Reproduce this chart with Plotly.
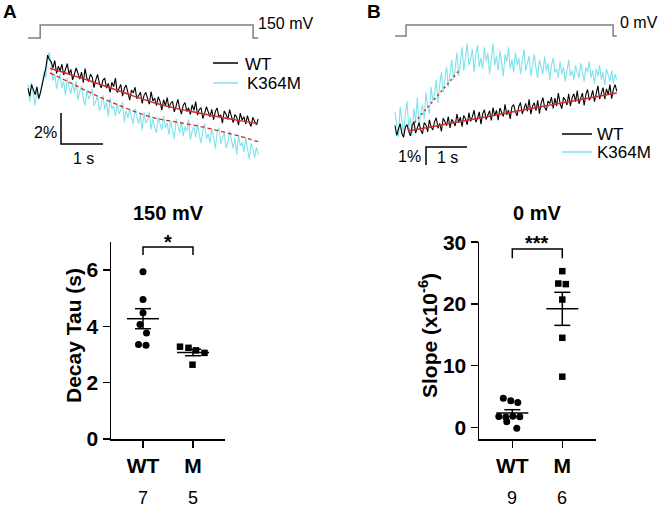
import numpy as np
import plotly.graph_objects as go

# ---------------- data ----------------
# Panel A (150 mV) fluorescence traces, % change, sampled over 5.48 s
A_DURATION = 5.48
A_WT = [0.1, -0.4, 0.35, 0.05, -0.3, 0.2, -0.55, -0.15, 0.3, 0.9,
        1.45, 2.25, 1.95, 1.82, 1.43, 1.90, 1.07, 1.53, 1.24, 1.66,
        0.97, 1.29, 1.70, 1.02, 1.33, 0.65, 1.05, 1.42, 1.08, 0.70,
        1.15, 0.47, 1.38, 0.75, 0.55, 1.02, 0.83, 0.15, 0.65, 1.01,
        0.43, 0.14, 0.64, 0.76, 0.12, 0.43, -0.16, 0.50, 0.21, 0.77,
        -0.17, 0.04, 0.35, -0.39, 0.11, 0.32, -0.27, -0.65, 0.0, -0.19,
        0.18, -0.56, -0.35, -0.14, -0.87, -0.36, -0.15, -0.64, -0.92, -0.11,
        -0.70, -0.53, -1.01, -0.44, -0.73, -1.30, -0.63, -1.01, -0.49, -1.17,
        -0.85, -0.73, -1.41, -1.04, -0.61, -1.18, -1.56, -0.98, -0.81, -1.38,
        -1.15, -1.58, -0.95, -1.32, -0.75, -1.62, -1.24, -1.16, -1.84, -1.51,
        -1.08, -1.40, -1.73, -1.25, -1.92, -1.39, -1.16, -1.74, -1.61, -2.13,
        -1.35, -1.57, -1.89, -1.26, -1.79, -2.11, -1.58, -1.75, -2.27, -1.49,
        -1.95, -1.72, -2.19, -1.66, -2.08, -2.35, -1.77, -1.99, -2.25, -1.87]
A_K364M = [0.35, -0.75, 0.5, -0.3, -1.0, 0.1, -0.6, -0.2, 0.55, 1.2,
           0.8, 2.0, 2.45, 1.36, 0.60, 1.05, 0.09, 0.64, 1.03, 0.13,
           0.57, -0.34, 0.76, 0.15, -0.25, 0.44, -0.17, 0.57, -0.63, -0.09,
           0.25, -0.56, -1.01, 0.03, -0.57, -0.33, 0.07, -1.03, -0.64, -0.39,
           -1.34, -0.99, -0.34, -1.25, -0.75, -1.70, -0.50, -1.20, -1.04, -1.69,
           -0.84, -1.54, -1.33, -0.78, -2.07, -1.32, -1.82, -1.21, -1.71, -2.20,
           -1.20, -1.69, -2.18, -1.56, -2.60, -1.44, -2.13, -1.97, -1.40, -2.54,
           -1.88, -2.40, -2.77, -1.75, -2.22, -2.59, -1.66, -2.43, -2.11, -2.88,
           -2.00, -2.47, -3.14, -1.86, -2.38, -2.75, -2.02, -2.99, -2.36, -2.68,
           -1.90, -3.22, -2.65, -2.37, -3.05, -2.17, -2.90, -3.42, -2.60, -2.17,
           -3.15, -2.83, -3.40, -2.48, -3.05, -3.78, -2.76, -2.43, -3.46, -3.09,
           -2.77, -3.75, -3.38, -2.66, -3.29, -3.77, -3.10, -4.18, -2.87, -3.60,
           -3.38, -4.01, -3.05, -3.83, -4.47, -3.45, -3.73, -4.37, -3.70, -4.13]
A_FIT_T = [0.52, 1.0, 1.5, 2.0, 2.5, 3.0, 3.5, 4.0, 4.5, 5.0, 5.48]
A_FIT_WT = [1.4, 1.0, 0.56, 0.1, -0.38, -0.82, -1.17, -1.45, -1.71, -1.96, -2.17]
A_FIT_K364M = [1.1, 0.48, -0.2, -0.8, -1.35, -1.8, -2.05, -2.3, -2.6, -2.95, -3.33]
A_STIM_T = [0, 0.29, 0.29, 5.36, 5.36, 5.48]
A_STIM_V = [0, 0, 1, 1, 0, 0]

# Panel B (0 mV)
B_DURATION = 5.41
B_WT = [0.25, -0.3, 0.05, 0.35, -0.2, -0.4, 0.15, 0.3, -0.09, -0.33,
        0.24, 0.46, -0.17, 0.09, 0.41, -0.02, -0.21, 0.41, 0.28, -0.10,
        0.56, 0.18, 0.0, 0.46, 0.68, 0.10, 0.37, -0.07, 0.65, 0.47,
        0.24, 0.75, 0.12, 0.59, 0.45, 0.22, 0.89, 0.41, 0.72, 0.19,
        0.81, 0.62, 0.29, 0.96, 0.48, 0.74, 1.11, 0.43, 0.64, 1.01,
        0.33, 0.90, 1.12, 0.58, 0.80, 1.07, 0.53, 1.25, 0.77, 1.09,
        0.55, 1.22, 0.99, 0.75, 1.42, 0.84, 1.11, 0.62, 1.29, 1.41,
        1.02, 0.79, 1.31, 1.53, 0.89, 1.16, 1.48, 1.04, 1.71, 0.88,
        1.34, 1.51, 1.08, 1.65, 0.91, 1.48, 1.80, 1.27, 1.08, 1.60,
        1.47, 1.83, 1.20, 1.77, 1.34, 2.05, 1.47, 1.19, 1.81, 1.67,
        1.39, 2.01, 1.33, 1.79, 2.01, 1.58, 2.19, 1.46, 1.78, 2.05,
        1.36, 1.98, 2.25, 1.66, 1.83, 2.20, 1.57, 2.13, 2.45, 1.72,
        2.03, 2.35, 1.72, 2.29, 1.95, 2.52, 1.74, 2.26, 2.52, 2.14]
B_K364M = [1.0, 0.2, -0.4, 1.3, 0.6, -0.2, 0.9, 1.6, 0.1, 0.7,
           -0.3, 1.2, 0.5, 1.8, 0.2, 1.0, 1.4, 0.6, 2.1, 1.3,
           0.9, 2.4, 1.6, 2.0, 2.8, 1.5, 2.5, 3.2, 2.1, 2.7,
           3.5, 2.4, 3.1, 3.9, 2.8, 3.4, 4.3, 3.0, 3.7, 4.6,
           3.3, 4.1, 4.8, 3.6, 3.9, 4.5, 3.2, 4.2, 4.7, 3.5,
           4.0, 3.4, 4.6, 3.8, 4.3, 3.1, 3.9, 4.8, 3.6, 4.1,
           3.3, 4.4, 3.7, 3.0, 4.2, 3.8, 4.6, 3.4, 3.9, 3.2,
           4.3, 3.6, 4.0, 3.1, 3.8, 4.5, 3.3, 3.7, 4.1, 3.0,
           3.6, 4.2, 3.4, 2.9, 3.9, 3.5, 3.1, 4.1, 3.3, 3.7,
           2.8, 3.6, 4.0, 3.2, 3.4, 2.9, 3.8, 3.1, 3.5, 2.7,
           3.4, 3.9, 3.0, 3.3, 2.8, 3.6, 3.2, 2.9, 3.7, 3.1,
           2.7, 3.5, 3.2, 3.8, 2.9, 3.3, 2.6, 3.4, 3.0, 3.6,
           2.8, 3.2, 2.5, 3.4, 3.0, 2.7, 3.3, 2.6, 3.1, 2.8]
B_FIT_WT_T = [0.32, 5.41]
B_FIT_WT = [-0.05, 2.05]
B_FIT_K364M_T = [0.32, 1.59]
B_FIT_K364M = [0.0, 3.37]
B_STIM_T = [0, 0.27, 0.27, 5.32, 5.32, 5.41]
B_STIM_V = [0, 0, 1, 1, 0, 0]

# Summary data
CATEGORIES = ["WT", "M"]
TAU_WT = [5.94, 4.96, 4.49, 4.07, 3.77, 3.36, 3.33]
TAU_M = [3.28, 3.24, 3.15, 3.06, 2.64]
SLOPE_WT = [4.7, 4.3, 4.0, 1.75, 1.65, 1.8, 1.7, 0.9, -0.15]
SLOPE_M = [25.3, 23.3, 23.2, 20.7, 14.5, 8.2]
N_TAU = ["7", "5"]
N_SLOPE = ["9", "6"]

# jitter (layout only)
TAU_WT_JIT = [0, 0, 0, -0.06, 0.07, -0.09, 0.06]
TAU_M_JIT = [-0.26, -0.09, 0.06, 0.23, -0.01]
SLOPE_WT_JIT = [-0.18, -0.03, 0.11, -0.27, -0.13, 0.01, 0.15, -0.11, 0.09]
SLOPE_M_JIT = [0, -0.08, 0.07, 0, 0, 0]

# ---------------- layout helpers ----------------
W, H = 663, 509
FONT = "Liberation Sans, Arial, sans-serif"
CYAN = "#7ee3ea"
RED = "#d42a2a"
GRAY = "#808080"


def px(p):
    return p / W


def py(p):
    return 1 - p / H


def xdom(p0, p1):
    return [px(p0), px(p1)]


def ydom(top, bottom):
    return [py(bottom), py(top)]


def xrng(p0, p1, zero, scale):
    return [(p0 - zero) / scale, (p1 - zero) / scale]


def yrng(top, bottom, zero, scale):
    return [(zero - bottom) / scale, (zero - top) / scale]


fig = go.Figure()

# ---------------- traces panel A ----------------
tA = np.linspace(0, A_DURATION, len(A_WT))
tB = np.linspace(0, B_DURATION, len(B_WT))

fig.add_trace(go.Scatter(x=A_STIM_T, y=A_STIM_V, mode="lines", xaxis="x", yaxis="y2",
                         line=dict(color=GRAY, width=1.5), hoverinfo="skip"))
fig.add_trace(go.Scatter(x=tA, y=A_K364M, mode="lines", xaxis="x", yaxis="y",
                         line=dict(color=CYAN, width=1.1)))
fig.add_trace(go.Scatter(x=tA, y=A_WT, mode="lines", xaxis="x", yaxis="y",
                         line=dict(color="black", width=1.1)))
fig.add_trace(go.Scatter(x=A_FIT_T, y=A_FIT_WT, mode="lines", xaxis="x", yaxis="y",
                         line=dict(color=RED, width=1.5, shape="spline")))
fig.add_trace(go.Scatter(x=A_FIT_T, y=A_FIT_K364M, mode="lines", xaxis="x", yaxis="y",
                         line=dict(color=RED, width=1.3, dash="4px,3px", shape="spline")))
# scale bar A: 1 s, 2 %
sa_t, sa_v = 0.786, -1.48
fig.add_trace(go.Scatter(x=[sa_t, sa_t, sa_t + 1], y=[sa_v, sa_v - 2, sa_v - 2], mode="lines",
                         xaxis="x", yaxis="y", line=dict(color="black", width=1.5)))

# ---------------- traces panel B ----------------
fig.add_trace(go.Scatter(x=B_STIM_T, y=B_STIM_V, mode="lines", xaxis="x3", yaxis="y4",
                         line=dict(color=GRAY, width=1.5)))
fig.add_trace(go.Scatter(x=tB, y=B_K364M, mode="lines", xaxis="x3", yaxis="y3",
                         line=dict(color=CYAN, width=1.1)))
fig.add_trace(go.Scatter(x=tB, y=B_WT, mode="lines", xaxis="x3", yaxis="y3",
                         line=dict(color="black", width=1.1)))
fig.add_trace(go.Scatter(x=B_FIT_WT_T, y=B_FIT_WT, mode="lines", xaxis="x3", yaxis="y3",
                         line=dict(color=RED, width=1.5)))
fig.add_trace(go.Scatter(x=B_FIT_K364M_T, y=B_FIT_K364M, mode="lines", xaxis="x3", yaxis="y3",
                         line=dict(color=RED, width=1.6, dash="2px,3px")))
sb_t, sb_v = 0.756, -0.944
fig.add_trace(go.Scatter(x=[sb_t + 1, sb_t, sb_t], y=[sb_v, sb_v, sb_v - 1], mode="lines",
                         xaxis="x3", yaxis="y3", line=dict(color="black", width=1.5)))


# ---------------- summary plots ----------------
def mean_sem_trace(vals, center, xa, ya):
    m = float(np.mean(vals))
    s = float(np.std(vals, ddof=1) / np.sqrt(len(vals)))
    hw, cw = 0.32, 0.16
    xs = [center - hw, center + hw, None, center, center, None,
          center - cw, center + cw, None, center - cw, center + cw]
    ys = [m, m, None, m - s, m + s, None, m + s, m + s, None, m - s, m - s]
    return go.Scatter(x=xs, y=ys, mode="lines", xaxis=xa, yaxis=ya,
                      line=dict(color="black", width=1.5), cliponaxis=False)


def points(vals, jit, center, symbol, size, xa, ya):
    return go.Scatter(x=[center + j for j in jit], y=vals, mode="markers", xaxis=xa, yaxis=ya,
                      marker=dict(symbol=symbol, size=size, color="black", line=dict(width=0)),
                      cliponaxis=False)


fig.add_trace(points(TAU_WT, TAU_WT_JIT, 1, "circle", 7, "x5", "y5"))
fig.add_trace(points(TAU_M, TAU_M_JIT, 2, "square", 6.5, "x5", "y5"))
fig.add_trace(mean_sem_trace(TAU_WT, 1, "x5", "y5"))
fig.add_trace(mean_sem_trace(TAU_M, 2, "x5", "y5"))
fig.add_trace(go.Scatter(x=[1, 1, 2, 2], y=[6.54, 6.82, 6.82, 6.54], mode="lines",
                         xaxis="x5", yaxis="y5", line=dict(color="black", width=1.5), cliponaxis=False))

fig.add_trace(points(SLOPE_WT, SLOPE_WT_JIT, 1, "circle", 7, "x6", "y6"))
fig.add_trace(points(SLOPE_M, SLOPE_M_JIT, 2, "square", 6.5, "x6", "y6"))
fig.add_trace(mean_sem_trace(SLOPE_WT, 1, "x6", "y6"))
fig.add_trace(mean_sem_trace(SLOPE_M, 2, "x6", "y6"))
fig.add_trace(go.Scatter(x=[1, 1, 2, 2], y=[27.4, 28.9, 28.9, 27.4], mode="lines",
                         xaxis="x6", yaxis="y6", line=dict(color="black", width=1.5), cliponaxis=False))

hidden = dict(visible=False, showgrid=False, zeroline=False, fixedrange=True, automargin=False)
sum_axis = dict(showline=True, linecolor="black", linewidth=1.5, ticks="outside",
                ticklen=7, tickwidth=1.5, tickcolor="black", showgrid=False, zeroline=False,
                automargin=False, fixedrange=True,
                tickfont=dict(family=FONT, size=21, color="black", weight="bold"))

fig.update_layout(
    template="none",
    width=W, height=H, margin=dict(l=0, r=0, t=0, b=0, pad=0), autosize=False,
    paper_bgcolor="white", plot_bgcolor="rgba(0,0,0,0)", showlegend=False,
    font=dict(family=FONT, color="black"),
    xaxis=dict(domain=xdom(20, 330), range=xrng(20, 330, 28, 42), anchor="y", **hidden),
    yaxis=dict(domain=ydom(10, 175), range=yrng(10, 175, 90, 15.5), anchor="x", **hidden),
    yaxis2=dict(overlaying="y", range=yrng(10, 175, 38, 13), anchor="x", **hidden),
    xaxis3=dict(domain=xdom(340, 663), range=xrng(340, 663, 395, 41), anchor="y3", **hidden),
    yaxis3=dict(domain=ydom(10, 175), range=yrng(10, 175, 130, 18), anchor="x3", **hidden),
    yaxis4=dict(overlaying="y3", range=yrng(10, 175, 36, 11), anchor="x3", **hidden),
    xaxis5=dict(domain=xdom(111, 225), range=[1 - 32 / 50, 2 + 32 / 50], anchor="y5",
                tickvals=[1, 2], ticktext=CATEGORIES, **sum_axis),
    yaxis5=dict(domain=ydom(242, 439), range=[0, 7], anchor="x5", tickvals=[0, 2, 4, 6], **sum_axis),
    xaxis6=dict(domain=xdom(479, 596), range=[1 - 33.3 / 50, 2 + 33.7 / 50], anchor="y6",
                tickvals=[1, 2], ticktext=CATEGORIES, **sum_axis),
    yaxis6=dict(domain=ydom(242, 439), range=[-1.9, 30.03], anchor="x6",
                tickvals=[0, 10, 20, 30], **sum_axis),
)

# ---------------- annotations & shapes ----------------
ann = []


def text(t, x, y, size, bold=False, xanchor="center", yanchor="middle", angle=0):
    ann.append(dict(text=t, x=px(x), y=py(y), xref="paper", yref="paper", showarrow=False,
                    xanchor=xanchor, yanchor=yanchor, textangle=angle, borderpad=0,
                    font=dict(family=FONT, size=size, color="black",
                              weight="bold" if bold else "normal")))


text("A", 10, 11.5, 19, bold=True)
text("B", 374, 11.5, 19, bold=True)
text("150 mV", 257, 23, 16, xanchor="left")
text("0 mV", 619, 22, 16, xanchor="left")
text("WT", 244, 64, 17, xanchor="left")
text("K364M", 246, 83, 17, xanchor="left")
text("WT", 596, 134, 17, xanchor="left")
text("K364M", 596, 152, 17, xanchor="left")
text("2%", 45, 133, 16)
text("1 s", 83, 158.5, 16)
text("1%", 409, 156.5, 16)
text("1 s", 447, 157.5, 16)

text("150 mV", 168, 213, 20, bold=True)
text("0 mV", 537, 213, 20, bold=True)
text("Decay Tau (s)", 73, 336, 21, bold=True, angle=-90)
text("Slope (x10<sup>-6</sup>)", 428, 336, 21, bold=True, angle=-90)
text("*", 168, 242, 20, bold=True)
text("***", 537, 243, 20, bold=True)
for lab, xp_ in zip(N_TAU, [143, 193]):
    text(lab, xp_, 497.5, 18)
for lab, xp_ in zip(N_SLOPE, [512, 562]):
    text(lab, xp_, 497.5, 18)

shapes = []


def hline(x0, x1, y, color):
    shapes.append(dict(type="line", xref="paper", yref="paper", x0=px(x0), x1=px(x1),
                       y0=py(y), y1=py(y), line=dict(color=color, width=1.5)))


hline(213, 238, 63, "black")
hline(213, 238, 83, CYAN)
hline(562, 592, 134, "black")
hline(562, 592, 152, CYAN)

fig.update_layout(annotations=ann, shapes=shapes)

fig.write_html(
    "out.html",
    config={"displayModeBar": False, "staticPlot": True},
    post_script="document.body.style.margin='0';document.body.style.overflow='hidden';"
                "document.documentElement.style.overflow='hidden';",
)
